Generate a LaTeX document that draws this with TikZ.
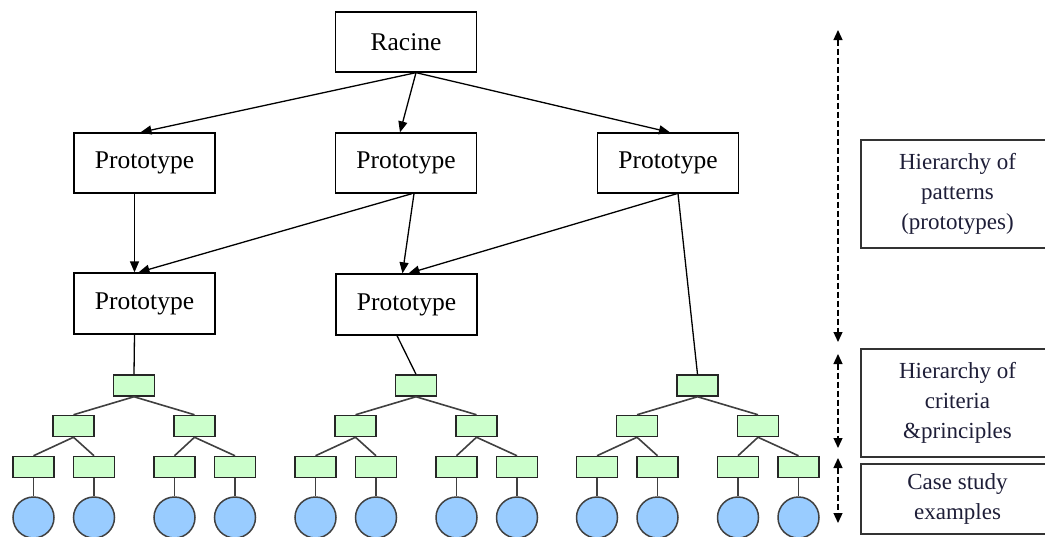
\documentclass[tikz,border=0pt]{standalone}
\usepackage{fontspec}
\setmainfont{Liberation Serif}
\usetikzlibrary{arrows.meta}
\definecolor{leafgreen}{HTML}{CCFFCC}
\definecolor{caseblue}{HTML}{99CCFF}
\definecolor{labelink}{HTML}{1E1E38}
\tikzset{
  protobox/.style={draw=black, line width=1.3pt, minimum width=141pt, minimum height=60pt, inner sep=0pt, font=\fontsize{25.5}{28}\selectfont},
  conn/.style={draw=black, line width=1.3pt, -{Triangle[length=11pt,width=9pt]}},
  plain/.style={draw=black, line width=1.3pt},
  crit/.style={draw=black!85, fill=leafgreen, line width=1.5pt, minimum width=41pt, minimum height=21pt, inner sep=0pt},
  casecirc/.style={draw=black!75, fill=caseblue, line width=1.5pt, circle, minimum size=41pt, inner sep=0pt},
  tline/.style={draw=black!75, line width=1.6pt},
  labelbox/.style={draw=black!80, line width=1.5pt, minimum width=193pt, inner sep=0pt, align=center, text=labelink, font=\fontsize{23}{30}\selectfont},
  span/.style={draw=black, line width=1.3pt, dash pattern=on 6pt off 3pt, {Triangle[length=10pt,width=9pt]}-{Triangle[length=10pt,width=9pt]}}
}
\newcommand\mytree[2]{%
  \node[crit] (#1r) at (#2,385.5) {};
  \node[crit] (#1a) at ({#2-60.5},426) {};
  \node[crit] (#1b) at ({#2+60.5},426) {};
  \node[crit] (#1aa) at ({#2-100.5},467) {};
  \node[crit] (#1ab) at ({#2-40},467) {};
  \node[crit] (#1ba) at ({#2+40.5},467) {};
  \node[crit] (#1bb) at ({#2+101},467) {};
  \node[casecirc] (#1caa) at ({#2-100.5},517.5) {};
  \node[casecirc] (#1cab) at ({#2-40},517.5) {};
  \node[casecirc] (#1cba) at ({#2+40.5},517.5) {};
  \node[casecirc] (#1cbb) at ({#2+101},517.5) {};
  \draw[tline] (#1r.south) -- (#1a.north);
  \draw[tline] (#1r.south) -- (#1b.north);
  \draw[tline] (#1a.south) -- (#1aa.north);
  \draw[tline] (#1a.south) -- (#1ab.north);
  \draw[tline] (#1b.south) -- (#1ba.north);
  \draw[tline] (#1b.south) -- (#1bb.north);
  \draw[tline] (#1aa.south) -- (#1caa.north);
  \draw[tline] (#1ab.south) -- (#1cab.north);
  \draw[tline] (#1ba.south) -- (#1cba.north);
  \draw[tline] (#1bb.south) -- (#1cbb.north);
}
\begin{document}
\begin{tikzpicture}[x=1pt,y=-1pt]
\clip (0,0) rectangle (1045,536);
\fill[white] (0,0) rectangle (1045,536);

% prototype hierarchy
\node[protobox] (racine) at (406,42) {Racine};
\node[protobox] (p1a) at (144.5,163) {Prototype};
\node[protobox] (p1b) at (406,163) {Prototype};
\node[protobox] (p1c) at (668,163) {Prototype};
\node[protobox, minimum height=61pt] (p2a) at (144.5,303.5) {Prototype};
\node[protobox, minimum height=61pt] (p2b) at (406.5,304.5) {Prototype};

% trees
\mytree{ta}{134}
\mytree{tb}{416}
\mytree{tc}{697.5}

% connectors
\draw[conn] ([xshift=10pt]racine.south) -- ([xshift=-4pt]p1a.north);
\draw[conn] ([xshift=10pt]racine.south) -- ([xshift=-6pt]p1b.north);
\draw[conn] ([xshift=10pt]racine.south) -- ([xshift=2pt]p1c.north);
\draw[conn] ([xshift=-10pt]p1a.south) -- ([xshift=-10pt]p2a.north);
\draw[conn] ([xshift=6pt]p1b.south) -- ([xshift=-6pt]p2a.north);
\draw[conn] ([xshift=8pt]p1b.south) -- ([xshift=-4pt]p2b.north);
\draw[conn] ([xshift=9pt]p1c.south) -- ([xshift=2pt]p2b.north);
\draw[plain] ([xshift=10pt]p1c.south) -- (tcr.north);
\draw[plain] ([xshift=-10pt]p2a.south) -- (tar.north);
\draw[plain] ([xshift=-9.5pt]p2b.south) -- (tbr.north);

% right side labels
\node[labelbox, minimum height=108pt] (lab1) at (957.5,194) {Hierarchy of\\patterns\\(prototypes)};
\node[labelbox, minimum height=108pt] (lab2) at (957.5,403) {Hierarchy of\\criteria\\\&principles};
\node[labelbox, minimum height=70pt] (lab3) at (957.5,499) {Case study\\examples};

% span arrows
\coordinate (s1t) at (838,30);
\coordinate (s1b) at (838,342);
\coordinate (s2t) at (838,354);
\coordinate (s2b) at (838,448);
\coordinate (s3t) at (838,458);
\coordinate (s3b) at (838,523);
\draw[span] (s1t) -- (s1b);
\draw[span] (s2t) -- (s2b);
\draw[span] (s3t) -- (s3b);
\end{tikzpicture}
\end{document}
